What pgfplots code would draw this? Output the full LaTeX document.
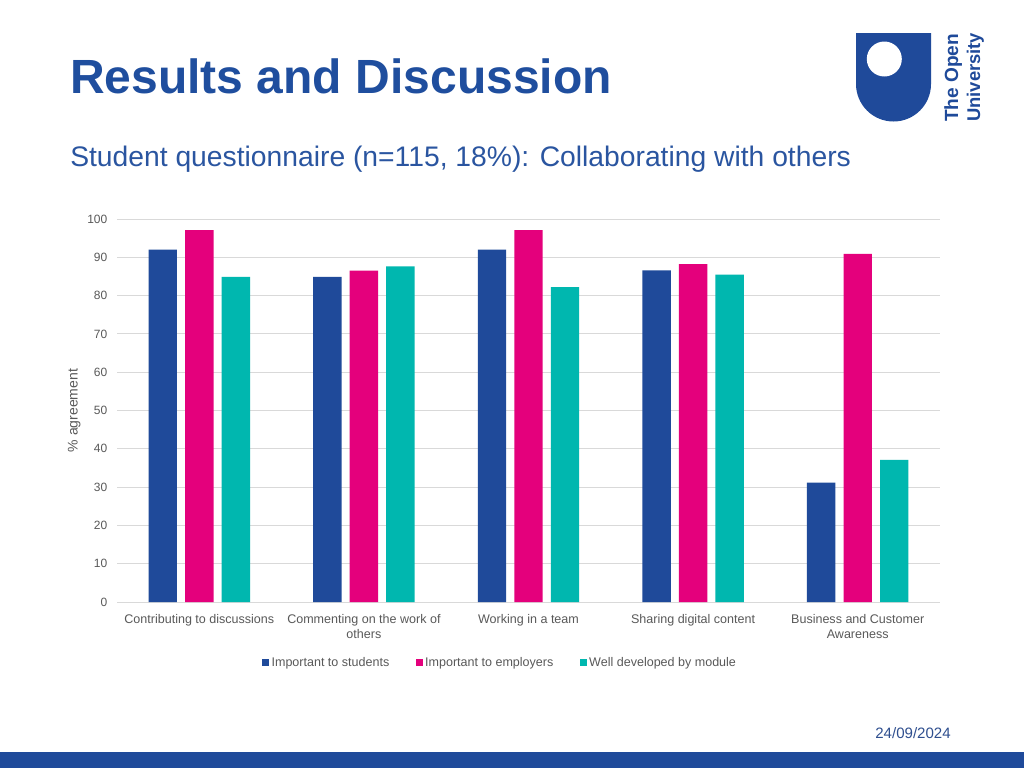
\documentclass[border=0pt]{standalone}
\usepackage{fontspec}
\setmainfont{Liberation Sans}
\usepackage{pgfplots}
\pgfplotsset{compat=1.18}
\definecolor{ouBlue}{HTML}{1F4A9A}
\definecolor{ouPink}{HTML}{E4007C}
\definecolor{ouTeal}{HTML}{00B7AF}
\definecolor{titleBlue}{HTML}{1F4E9E}
\definecolor{subBlue}{HTML}{2A55A0}
\definecolor{gridgray}{HTML}{D9D9D9}
\definecolor{textgray}{HTML}{595959}
\definecolor{dateBlue}{HTML}{2F4F8F}
\begin{document}
\begin{tikzpicture}
\begin{scope}[x=0.75pt,y=-0.75pt]
\fill[white] (0,0) rectangle (1024,768);
\fill[ouBlue] (0,752) rectangle (1024,768);
\node[anchor=base west, inner sep=0, text=titleBlue, font=\fontsize{36}{40}\selectfont\bfseries] at (70,93.3) {Results and Discussion};
\node[anchor=base west, inner sep=0, text=subBlue, font=\fontsize{21.2}{25}\selectfont] at (70,166.7) {Student questionnaire (n=115, 18\%): Collaborating with others};
\node[anchor=base east, inner sep=0, text=dateBlue, font=\fontsize{11.3}{13}\selectfont] at (951,738.5) {24/09/2024};
% logo
\fill[ouBlue] (856,84) -- (856,33) -- (931,33) -- (931,84) arc (0:180:37.5) -- cycle;
\fill[white] (884.3,59) circle[radius=17.5];
\node[rotate=90, anchor=base west, inner sep=0, text=ouBlue, font=\fontsize{14.3}{16}\selectfont\bfseries] at (958,122) {The Open};
\node[rotate=90, anchor=base west, inner sep=0, text=ouBlue, font=\fontsize{13.8}{16}\selectfont\bfseries] at (980,122) {University};
\end{scope}
\begin{axis}[
  at={(87.75pt,-451.5pt)}, anchor=south west,
  scale only axis, width=617.25pt, height=287.25pt,
  xmin=-0.5, xmax=4.5, ymin=0, ymax=100,
  ytick={0,10,...,100}, xtick={0,1,2,3,4},
  xticklabels={Contributing to discussions, {Commenting on the work of\\others}, Working in a team, Sharing digital content, {Business and Customer\\Awareness}},
  x tick label style={align=center, font=\fontsize{9.4}{10.9}\selectfont, text=textgray, yshift=-6pt},
  y tick label style={font=\fontsize{9}{11}\selectfont, text=textgray, xshift=-3.75pt},
  /pgf/number format/assume math mode=true,
  major tick length=0pt,
  axis line style={draw=none},
  ymajorgrids, grid style={gridgray, line width=0.75pt},
  ylabel={\% agreement},
  ylabel style={at={(axis description cs:-0.052,0.5)}, anchor=center, font=\fontsize{10.5}{12}\selectfont, text=textgray},
  legend style={at={(axis description cs:0.466,-0.158)}, anchor=center, draw=none, fill=none, legend columns=3, font=\fontsize{9.4}{11}\selectfont, text=textgray, /tikz/every even column/.append style={column sep=18pt}},
]
\addplot[ybar, bar width=21.3pt, bar shift=-27.4pt, fill=ouBlue, draw=none, forget plot] coordinates {(0,92.0) (1,84.9) (2,92.0) (3,86.6) (4,31.2)};
\addplot[ybar, bar width=21.3pt, bar shift=0pt, fill=ouPink, draw=none, forget plot] coordinates {(0,97.1) (1,86.5) (2,97.1) (3,88.2) (4,90.9)};
\addplot[ybar, bar width=21.3pt, bar shift=27.4pt, fill=ouTeal, draw=none, forget plot] coordinates {(0,84.9) (1,87.6) (2,82.2) (3,85.5) (4,37.1)};
\addlegendimage{legend image code/.code={\fill[ouBlue] (0pt,-2.25pt) rectangle (4.5pt,2.25pt);}}
\addlegendentry{Important to students}
\addlegendimage{legend image code/.code={\fill[ouPink] (0pt,-2.25pt) rectangle (4.5pt,2.25pt);}}
\addlegendentry{Important to employers}
\addlegendimage{legend image code/.code={\fill[ouTeal] (0pt,-2.25pt) rectangle (4.5pt,2.25pt);}}
\addlegendentry{Well developed by module}
\end{axis}
\end{tikzpicture}
\end{document}
